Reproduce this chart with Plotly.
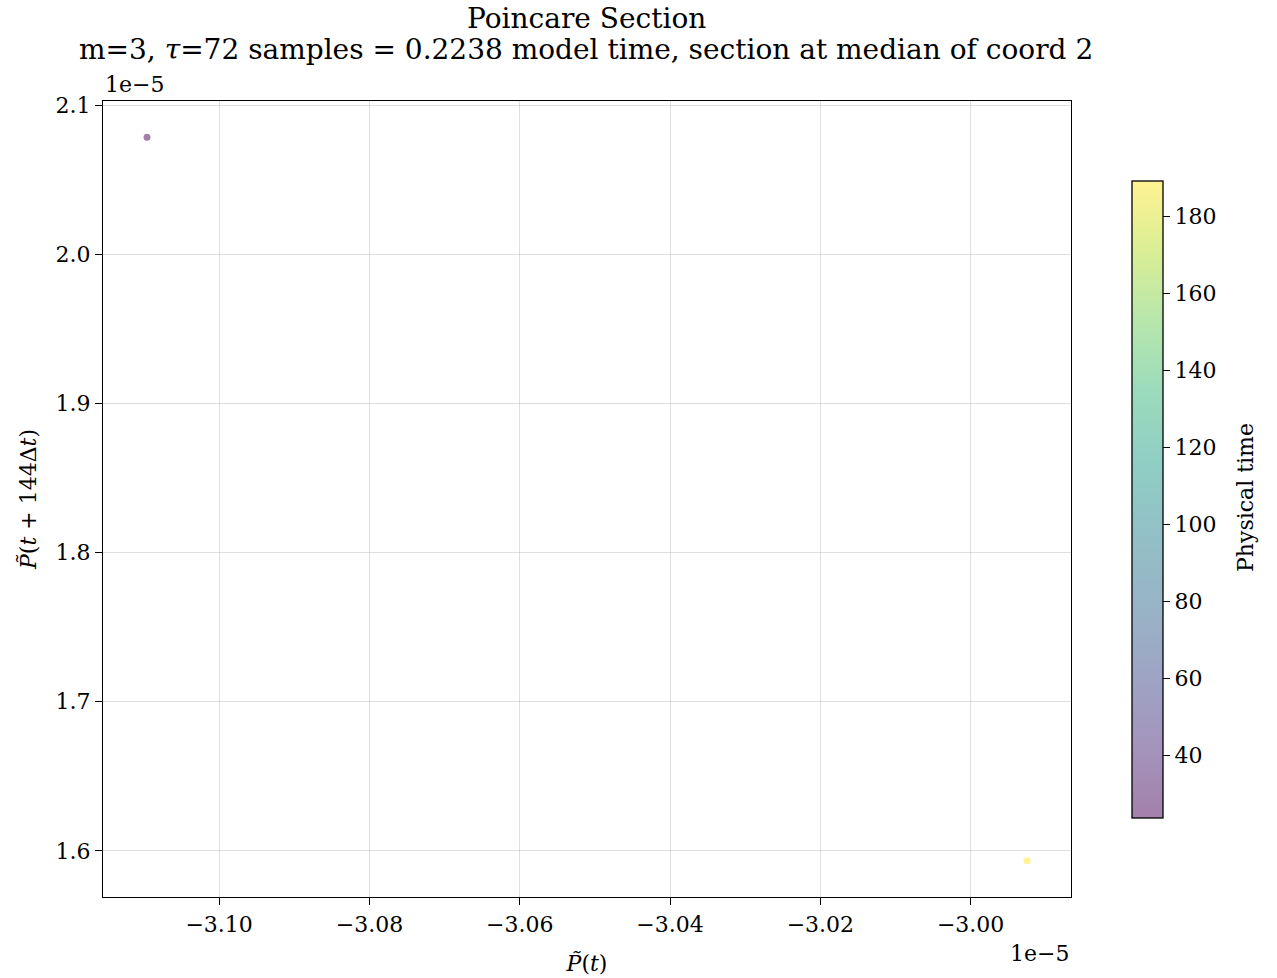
import plotly.graph_objects as go

# data (real units)
x_vals = [-3.1096e-5, -2.9925e-5]
y_vals = [2.0785e-5, 1.5933e-5]
t_vals = [23.9, 189.4]

x_tick_vals = [-3.10, -3.08, -3.06, -3.04, -3.02, -3.00]
x_tick_text = ["\u22123.10", "\u22123.08", "\u22123.06", "\u22123.04", "\u22123.02", "\u22123.00"]
y_tick_vals = [1.6, 1.7, 1.8, 1.9, 2.0, 2.1]
y_tick_text = ["1.6", "1.7", "1.8", "1.9", "2.0", "2.1"]
cb_tick_vals = [40, 60, 80, 100, 120, 140, 160, 180]

scale = 1e-5

viridis = ["#440154", "#482878", "#3e4989", "#31688e", "#26828e",
           "#1f9e89", "#35b779", "#6ece58", "#b5de2b", "#fde725"]

def blend(h, a=0.5):
    r, g, b = int(h[1:3], 16), int(h[3:5], 16), int(h[5:7], 16)
    return "rgb(%d,%d,%d)" % tuple(round(a * c + (1 - a) * 255) for c in (r, g, b))

cscale = [[i / (len(viridis) - 1), blend(c)] for i, c in enumerate(viridis)]

FONT = "DejaVu Serif"
W, H = 1277, 978
L, R, T, B = 103, 206, 101, 81
PW, PH = W - L - R, H - T - B

fig = go.Figure()
fig.add_trace(go.Scatter(
    x=x_vals, y=y_vals, mode="markers",
    marker=dict(size=7, color=t_vals, colorscale=cscale, cmin=23.9, cmax=189.4,
                line=dict(width=0),
                colorbar=dict(
                    tickvals=cb_tick_vals, ticks="outside", ticklen=7, tickwidth=1.2, tickcolor="black",
                    tickfont=dict(family=FONT, size=22, color="black"),
                    thickness=31, len=0.80, lenmode="fraction",
                    x=(1132 - L) / PW, xanchor="left", xpad=0, y=0.5, yanchor="middle", ypad=0,
                    outlinecolor="black", outlinewidth=1.3,
                )),
    showlegend=False,
))

axis_common = dict(
    showline=True, linecolor="black", linewidth=1.3, mirror=True,
    ticks="outside", ticklen=7, tickwidth=1.2, tickcolor="black",
    showgrid=True, gridcolor="rgba(176,176,176,0.4)", gridwidth=1.2,
    zeroline=False, tickfont=dict(family=FONT, size=22, color="black"),
    automargin=False,
)

xr = [min(x_vals), max(x_vals)]
dx = (xr[1] - xr[0]) * 0.05
yr = [min(y_vals), max(y_vals)]
dy = (yr[1] - yr[0]) * 0.05

fig.update_xaxes(**axis_common, range=[xr[0] - dx, xr[1] + dx],
                 tickvals=[v * scale for v in x_tick_vals], ticktext=x_tick_text,
                 title=dict(text="<i>P\u0303</i>(<i>t</i>)", font=dict(family=FONT, size=22, color="black"), standoff=20))
fig.update_yaxes(**axis_common, range=[yr[0] - dy, yr[1] + dy],
                 tickvals=[v * scale for v in y_tick_vals], ticktext=y_tick_text,
                 title=dict(text="<i>P\u0303</i>(<i>t</i> + 144\u0394<i>t</i>)", font=dict(family=FONT, size=22, color="black"), standoff=12))

def px_x(p):
    return (p - L) / PW

def px_y(p):
    return (H - B - p) / PH

fig.update_layout(
    width=W, height=H,
    margin=dict(l=L, r=R, t=T, b=B, autoexpand=False),
    plot_bgcolor="white", paper_bgcolor="white",
    annotations=[
        dict(text="Poincare Section", xref="paper", yref="paper", x=px_x(586), y=px_y(18),
             xanchor="center", yanchor="middle", showarrow=False,
             font=dict(family=FONT, size=28, color="black")),
        dict(text="m=3, <i>\u03c4</i>=72 samples = 0.2238 model time, section at median of coord 2",
             xref="paper", yref="paper", x=px_x(586), y=px_y(49),
             xanchor="center", yanchor="middle", showarrow=False,
             font=dict(family=FONT, size=28, color="black")),
        dict(text="Physical time", xref="paper", yref="paper", x=px_x(1245), y=px_y(498),
             xanchor="center", yanchor="middle", textangle=-90, showarrow=False,
             font=dict(family=FONT, size=22, color="black")),
        dict(text="1e\u22125", xref="paper", yref="paper", x=0, y=1, xanchor="left", yanchor="bottom",
             yshift=2, showarrow=False, font=dict(family=FONT, size=22, color="black")),
        dict(text="1e\u22125", xref="paper", yref="paper", x=1, y=0, xanchor="right", yanchor="top",
             yshift=-42, showarrow=False, font=dict(family=FONT, size=22, color="black")),
    ],
)

fig.write_html("out.html")
